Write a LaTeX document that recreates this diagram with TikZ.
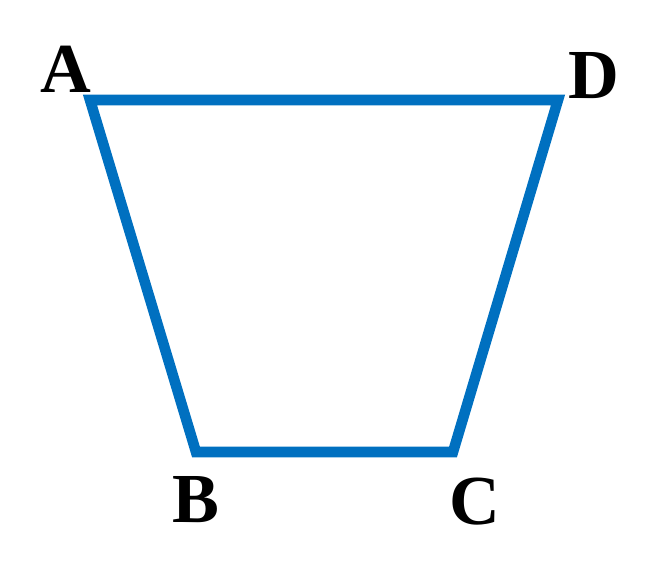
\documentclass[tikz,border=0pt]{standalone}
\usepackage{fontspec}
\setmainfont{Liberation Serif}
\definecolor{cEdge}{RGB}{0,112,192}
\tikzset{
    edge/.style={draw=cEdge, line width=6pt, line join=miter},
    vlabel/.style={font=\fontsize{40}{40}\selectfont\bfseries, inner sep=0pt},
}
\begin{document}
\begin{tikzpicture}[x=0.02cm, y=-0.02cm]
    \useasboundingbox (0,0) rectangle (659,581);
    % corners
    \coordinate (A) at (90,100);
    \coordinate (D) at (558,100);
    \coordinate (C) at (453,452);
    \coordinate (B) at (196,452);
    \draw[edge] (A) -- (D) -- (C) -- (B) -- cycle;
    % labels
    \node[vlabel] (lA) at (66,69) {A};
    \node[vlabel] (lD) at (594,76) {D};
    \node[vlabel] (lB) at (196,500) {B};
    \node[vlabel] (lC) at (475,502) {C};
\end{tikzpicture}
\end{document}
